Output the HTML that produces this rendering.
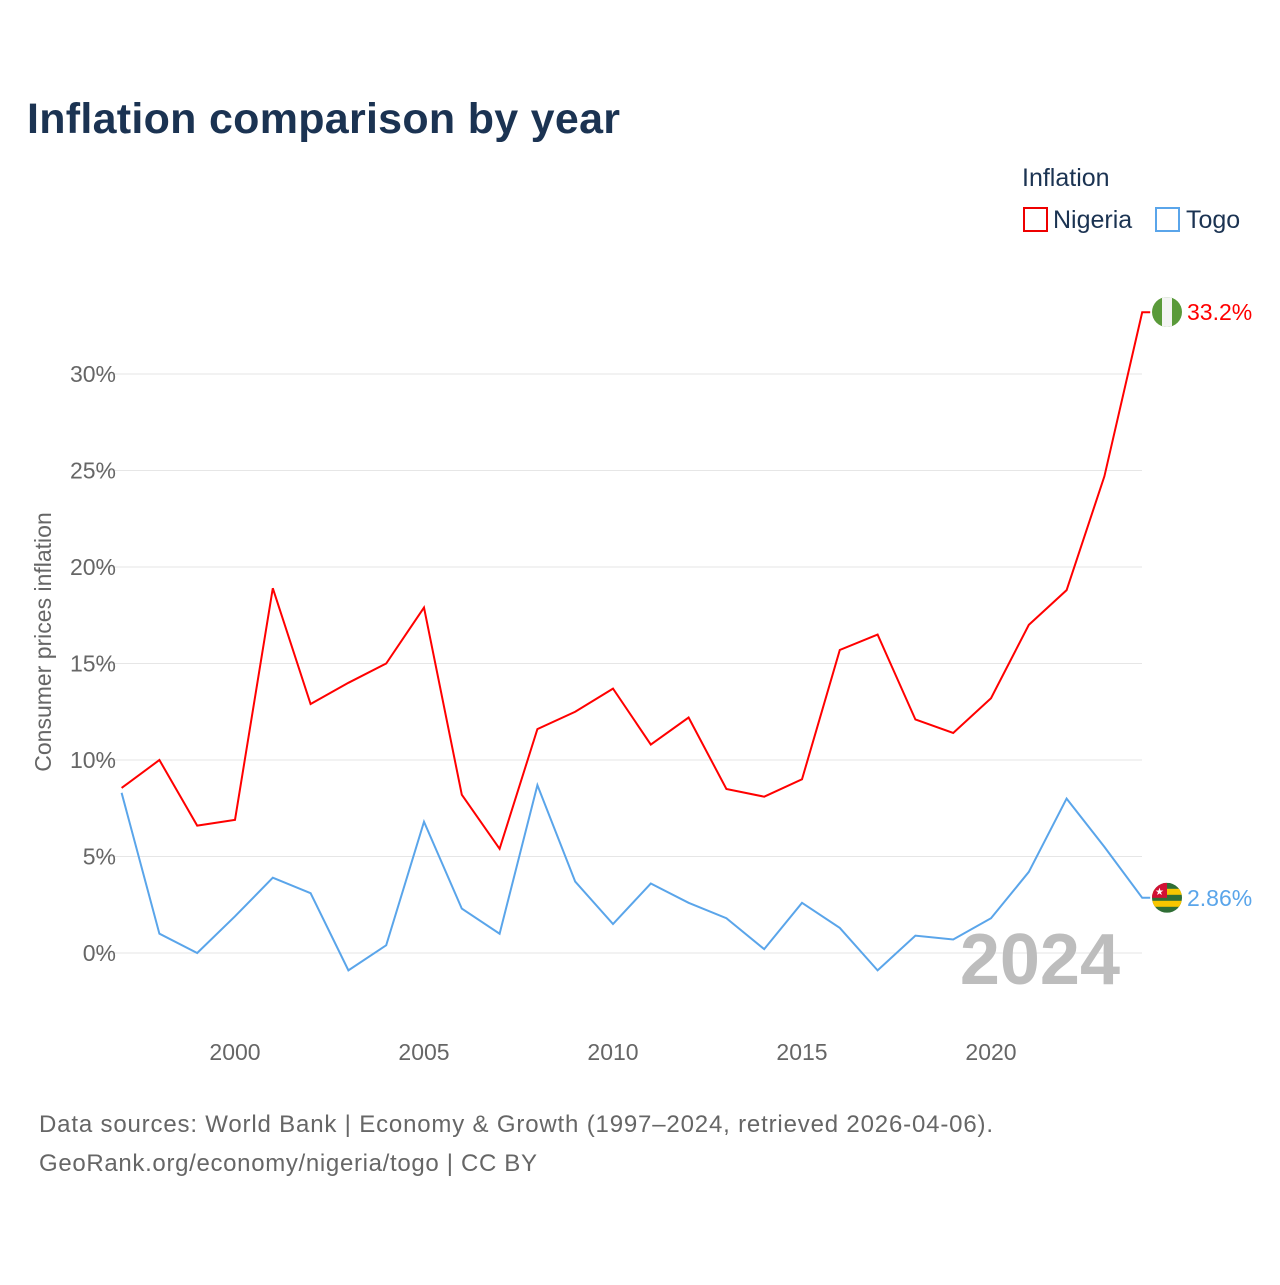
<!DOCTYPE html>
<html><head><meta charset="utf-8"><style>
body{margin:0;background:#fff;font-family:"Liberation Sans",sans-serif;}
svg text{font-family:"Liberation Sans",sans-serif;}
</style></head><body>
<svg width="1280" height="1280">
<defs>
<clipPath id="cn"><circle cx="1167" cy="312" r="15"/></clipPath>
<clipPath id="ct"><circle cx="1167" cy="897.8" r="15"/></clipPath>
</defs>
<text x="27" y="133" font-size="43" font-weight="bold" fill="#1b3352" textLength="593">Inflation comparison by year</text>
<text x="1022" y="186" font-size="25" fill="#1b3352">Inflation</text>
<g><rect x="1024" y="208" width="23" height="23" fill="none" stroke="#e00" stroke-width="2"/><text x="1053" y="228" font-size="25" fill="#1b3352">Nigeria</text></g>
<g><rect x="1156" y="208" width="23" height="23" fill="none" stroke="#5aa5ea" stroke-width="2"/><text x="1186" y="228" font-size="25" fill="#1b3352">Togo</text></g>
<text transform="translate(51,642) rotate(-90)" text-anchor="middle" font-size="23" fill="#666">Consumer prices inflation</text>
<g id="grid"></g><g id="marks"></g>
<text x="1120" y="984" text-anchor="end" font-size="72" font-weight="bold" fill="#bdbdbd">2024</text>
<text x="39" y="1132" font-size="24" fill="#666" textLength="954">Data sources: World Bank | Economy &amp; Growth (1997–2024, retrieved 2026-04-06).</text>
<text x="39" y="1171" font-size="24" fill="#666" textLength="498">GeoRank.org/economy/nigeria/togo | CC BY</text>
</svg>
<script>
const years=[1997,1998,1999,2000,2001,2002,2003,2004,2005,2006,2007,2008,2009,2010,2011,2012,2013,2014,2015,2016,2017,2018,2019,2020,2021,2022,2023,2024];
const nigeria=[8.55,10.0,6.6,6.9,18.9,12.9,14.0,15.0,17.9,8.2,5.4,11.6,12.5,13.7,10.8,12.2,8.5,8.1,9.0,15.7,16.5,12.1,11.4,13.2,17.0,18.8,24.7,33.2];
const togo=[8.3,1.0,0,1.9,3.9,3.1,-0.9,0.4,6.8,2.3,1.0,8.7,3.7,1.5,3.6,2.6,1.8,0.2,2.6,1.3,-0.9,0.9,0.7,1.8,4.2,8.0,5.5,2.86];
const yTicks=[0,5,10,15,20,25,30];
const xTicks=[2000,2005,2010,2015,2020];
const NS="http://www.w3.org/2000/svg";
const X=v=>121.6+(v-1997)*37.8;
const Y=v=>953-v*19.3;
const grid=document.getElementById('grid'),marks=document.getElementById('marks');
function mk(tag,attrs,parent,txt){const e=document.createElementNS(NS,tag);for(const k in attrs)e.setAttribute(k,attrs[k]);if(txt!==undefined)e.textContent=txt;parent.appendChild(e);return e;}
yTicks.forEach(t=>{
 const l=mk('line',{x1:95,x2:1142,y1:Y(t),y2:Y(t),stroke:'#e6e6e6','stroke-width':1},grid);
 
 
 const tx=mk('text',{x:116,y:Y(t)+8,'text-anchor':'end','font-size':23,fill:'#666'},grid,t+'%');
 
 
});
xTicks.forEach(t=>{
 const tx=mk('text',{x:X(t),y:1060,'text-anchor':'middle','font-size':23,fill:'#666'},grid,String(t));
 
 
});
function series(vals,color,name,label,clip){
 const pts=vals.map((v,i)=>X(years[i])+','+Y(v)).join(' ');
 const last=vals[vals.length-1];
 const cy=Y(last);
 const p=mk('polyline',{points:pts+' '+(X(2024)+8)+','+cy,fill:'none',stroke:color,'stroke-width':2},marks);
 
 
 const g=mk('g',{'clip-path':'url(#'+clip+')'},marks);
 
 
 if(name==='nigeria'){
  mk('rect',{x:1152,y:cy-15,width:30,height:30,fill:'#5a9a3a'},g);
  mk('rect',{x:1162,y:cy-15,width:10,height:30,fill:'#f4f4f4'},g);
 } else {
  mk('rect',{x:1152,y:cy-15,width:30,height:30,fill:'#2f6e35'},g);
  mk('rect',{x:1152,y:cy-9,width:30,height:6,fill:'#f7c600'},g);
  mk('rect',{x:1152,y:cy+3,width:30,height:6,fill:'#f7c600'},g);
  mk('rect',{x:1152,y:cy-15,width:15,height:15,fill:'#d21034'},g);
  mk('text',{x:1159.5,y:cy-3,'font-size':10,fill:'#fff','text-anchor':'middle'},g,'★');
 }
 const t=mk('text',{x:1187,y:cy+8,'font-size':23,fill:color},marks,label);
 
 
}
series(nigeria,'#f00','nigeria','33.2%','cn');
series(togo,'#5aa5ea','togo','2.86%','ct');
</script>
</body></html>
